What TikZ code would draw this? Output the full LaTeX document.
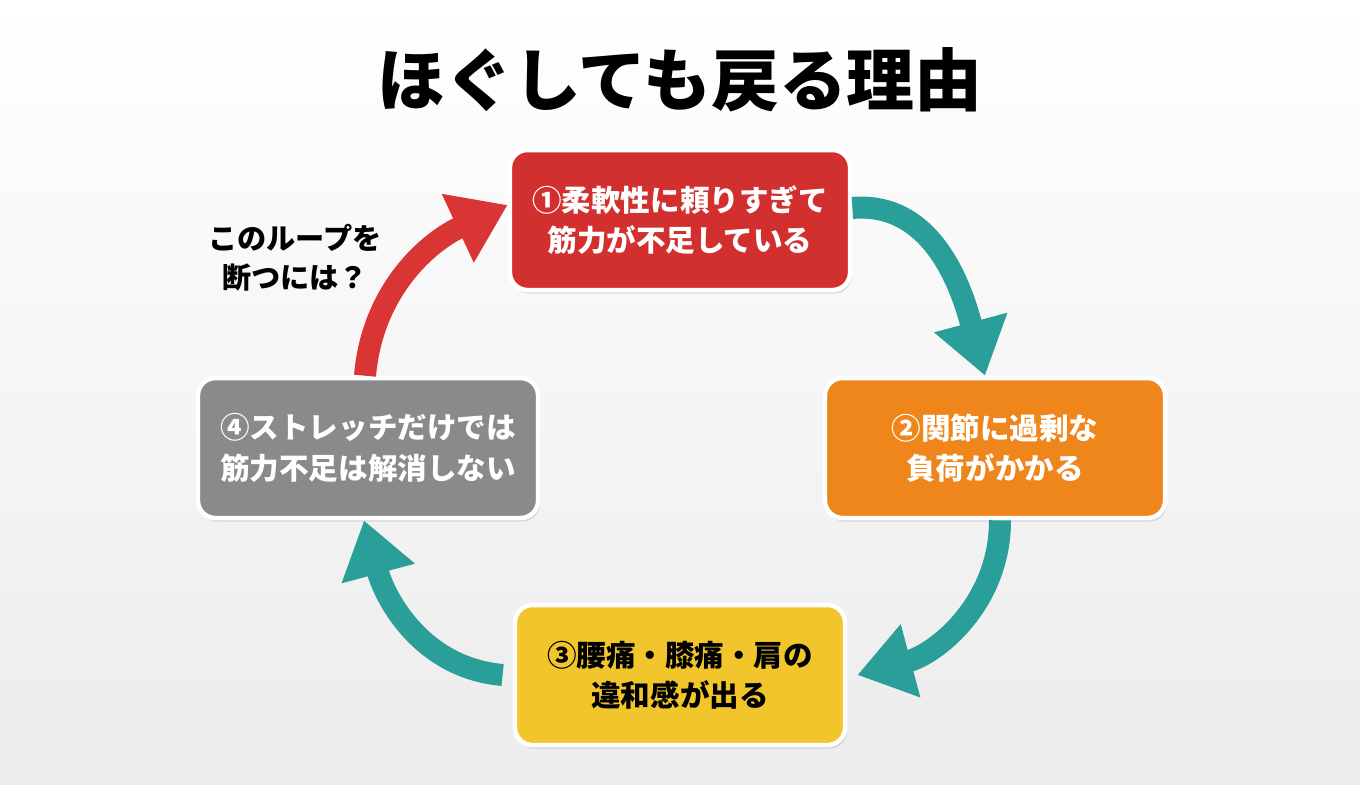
\documentclass[tikz,border=0pt]{standalone}
\usepackage{fontspec}
\newfontfamily\cjk{Noto Sans CJK JP}
\usetikzlibrary{arrows.meta,shadows}
\definecolor{boxred}{HTML}{D1302F}
\definecolor{boxorange}{HTML}{EF861B}
\definecolor{boxyellow}{HTML}{F1C52B}
\definecolor{boxgray}{HTML}{8A8A8A}
\definecolor{loopteal}{HTML}{2A9E98}
\definecolor{loopred}{HTML}{DA3535}
\tikzset{
  loopstep/.style = {draw = white, line width = 1.3pt, rounded corners = 5pt,
    minimum width = 3.4cm, minimum height = 1.4cm, align = center,
    font = \cjk\bfseries\fontsize{8.4}{11.5}\selectfont, text = white,
    drop shadow = {opacity = 0.25, shadow xshift = 0.5pt, shadow yshift = -1pt}},
  flow/.style = {line width = 0.22cm, -{Triangle[length = 0.55cm, width = 0.72cm]}}
}
\begin{document}
\begin{tikzpicture}[x = 0.01cm, y = -0.01cm]
\useasboundingbox (0, 0) rectangle (1360, 784);
\shade[top color = white, bottom color = gray!15] (0, 0) rectangle (1360, 784);
% title
\node (title) at (680, 80) {\cjk\bfseries\fontsize{19.3}{21}\selectfont ほぐしても戻る理由};
% the four steps
\node[loopstep, fill = boxred] (s1) at (680, 220) {①柔軟性に頼りすぎて\\筋力が不足している};
\node[loopstep, fill = boxorange] (s2) at (995, 448) {②関節に過剰な\\負荷がかかる};
\node[loopstep, fill = boxyellow, text = black, minimum width = 3.3cm] (s3) at (680, 675) {③腰痛・膝痛・肩の\\違和感が出る};
\node[loopstep, fill = boxgray] (s4) at (368, 448) {④ストレッチだけでは\\筋力不足は解消しない};
\node[align = center, font = \cjk\bfseries\fontsize{8.3}{11}\selectfont] (ask) at (295, 258) {このループを\\断つには？};
% loop arrows
\draw[flow, loopteal] ([yshift = 0.12cm]s1.east) to[out = 5, in = 105] ([xshift = -0.1cm]s2.north);
\draw[flow, loopteal] ([xshift = 0.05cm]s2.south) to[out = -90, in = 15] ([xshift = 0.1cm]s3.east);
\draw[flow, loopteal] ([xshift = -0.1cm]s3.west) to[out = 175, in = -75] ([xshift = -0.04cm]s4.south);
\draw[flow, loopred] ([xshift = -0.03cm]s4.north) to[out = 85, in = -155] ([yshift = 0.15cm]s1.west);
\end{tikzpicture}
\end{document}
